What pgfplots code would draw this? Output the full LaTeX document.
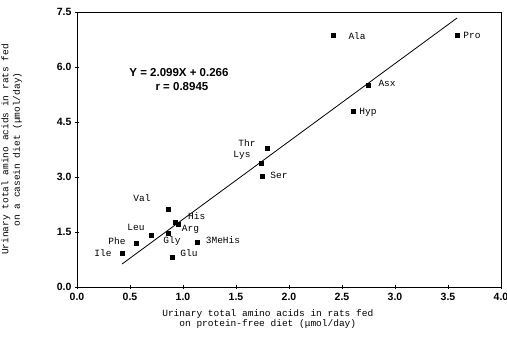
\documentclass[border=0pt]{standalone}
\usepackage{fontspec}
\setmainfont{Liberation Sans}
\newfontfamily\cour{Liberation Mono}
\usepackage{pgfplots}
\pgfplotsset{compat=1.18}
\begin{document}
\begin{tikzpicture}
\begin{axis}[
  scale only axis,
  width=424pt, height=275pt,
  xmin=0, xmax=4, ymin=0, ymax=7.5,
  xtick={0,0.5,...,4.01}, ytick={0,1.5,...,7.51},
  axis line style={black, line width=0.6pt},
  tick style={black, line width=0.5pt},
  tick align=center, major tick length=4pt,
  xtick pos=bottom, ytick pos=left,
  /pgf/number format/assume math mode=true,
  /pgf/number format/.cd, fixed, fixed zerofill, precision=1, /pgfplots/.cd,
  ticklabel style={font=\bfseries\fontsize{10.5}{10.5}\selectfont},
  xticklabel style={yshift=-1pt},
  xlabel={Urinary total amino acids in rats fed\\on protein-free diet (μmol/day)},
  ylabel={Urinary total amino acids in rats fed\\on a casein diet (μmol/day)},
  xlabel style={font=\cour\fontsize{9.5}{10.5}\selectfont, align=center, at={(axis description cs:0.45,0)}, anchor=north, yshift=-19pt},
  ylabel style={font=\cour\fontsize{9.5}{11.5}\selectfont, align=center, at={(axis description cs:-0.122,0.5)}, anchor=south, rotate=0},
  clip=false,
]
\addplot[only marks, mark=square*, mark size=2.2pt, black] coordinates {
  (2.415,6.873) (3.585,6.873) (2.745,5.509) (2.604,4.80) (1.792,3.791)
  (1.736,3.382) (1.745,3.027) (0.858,2.127) (0.925,1.773) (0.953,1.718)
  (0.858,1.473) (0.698,1.418) (0.557,1.20) (1.132,1.227) (0.425,0.927)
  (0.896,0.818)
};
\addplot[black, line width=0.8pt, mark=none] coordinates {(0.425,0.627) (3.585,7.336)};
\begin{scope}[every node/.style={font=\cour\fontsize{9.5}{10}\selectfont, inner sep=0pt}]
\node at (axis cs:2.642,6.845) {Ala};
\node at (axis cs:3.726,6.873) {Pro};
\node at (axis cs:2.925,5.564) {Asx};
\node at (axis cs:2.745,4.773) {Hyp};
\node at (axis cs:1.604,3.927) {Thr};
\node at (axis cs:1.557,3.60) {Lys};
\node at (axis cs:1.906,3.055) {Ser};
\node at (axis cs:0.613,2.427) {Val};
\node at (axis cs:1.13,1.93) {His};
\node at (axis cs:1.07,1.57) {Arg};
\node at (axis cs:0.557,1.636) {Leu};
\node at (axis cs:0.896,1.255) {Gly};
\node at (axis cs:1.377,1.282) {3MeHis};
\node at (axis cs:0.377,1.255) {Phe};
\node at (axis cs:0.245,0.927) {Ile};
\node at (axis cs:1.057,0.927) {Glu};
\end{scope}
\node[font=\bfseries\fontsize{11.5}{11.5}\selectfont, inner sep=0pt] at (axis cs:0.962,5.86) {Y = 2.099X + 0.266};
\node[font=\bfseries\fontsize{11.5}{11.5}\selectfont, inner sep=0pt] at (axis cs:0.99,5.48) {r = 0.8945};
\end{axis}
\pgfresetboundingbox
\path ([shift={(-77pt,-54pt)}]current axis.south west) rectangle ([shift={(6pt,12pt)}]current axis.north east);
\end{tikzpicture}
\end{document}
